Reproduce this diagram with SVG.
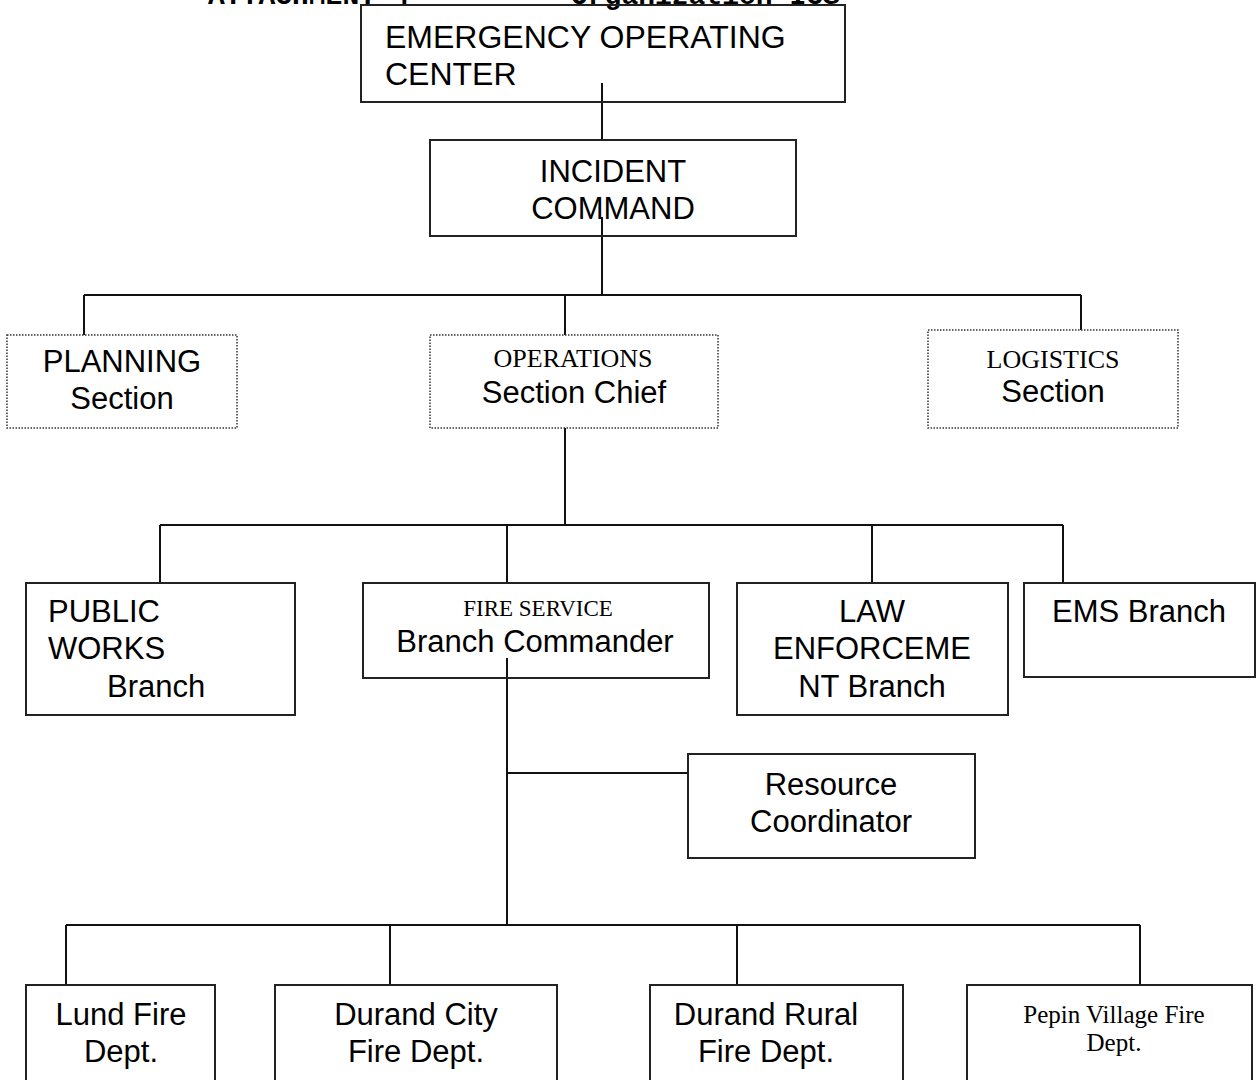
<svg xmlns="http://www.w3.org/2000/svg" width="1257" height="1080" viewBox="0 0 1257 1080">
<style>
.box{fill:#fff;stroke:#222;stroke-width:2}
.dot{fill:#fff;stroke:#333;stroke-width:1.5;stroke-dasharray:1.5 1.5}
.a{font-family:"Liberation Sans",Arial,sans-serif;font-size:31px;fill:#000}
.t{font-family:"Liberation Serif","Times New Roman",serif;font-size:26px;fill:#000}
.title{font-family:"Liberation Mono","Courier New",monospace;font-size:28px;font-weight:bold;fill:#000}
.c{text-anchor:middle}
.ln{fill:none;stroke:#111;stroke-width:2}
</style>
<rect width="1257" height="1080" fill="#fff"/>
<g id="title">
<text class="title" x="208" y="4">ATTACHMENT 4</text>
<text class="title" x="571" y="4">Organization ICS</text>
</g>
<g id="connectors">
<path class="ln" d="M602 83V140M602 217V295M84 295H1081M84 295V335M565 295V335M1081 295V330M565 428V525M160 525H1063M160 525V583M507 525V583M872 525V583M1063 525V583M507 658V925M507 773H688M66 925H1140M66 925V985M390 925V985M737 925V985M1140 925V985"/>
</g>
<g id="eoc">
<rect class="box" x="361" y="5" width="484" height="97" fill-opacity="0"/>
<text class="a" x="385" y="48" style="font-size:32px">EMERGENCY OPERATING</text>
<text class="a" x="385" y="85" style="font-size:32px">CENTER</text>
</g>
<g id="incident">
<rect class="box" x="430" y="140" width="366" height="96" fill-opacity="0"/>
<text class="a c" x="613" y="182">INCIDENT</text>
<text class="a c" x="613" y="219">COMMAND</text>
</g>
<g id="planning">
<rect class="dot" x="7" y="335" width="230" height="93"/>
<text class="a c" x="122" y="372">PLANNING</text>
<text class="a c" x="122" y="409">Section</text>
</g>
<g id="operations">
<rect class="dot" x="430" y="335" width="288" height="93" fill-opacity="0"/>
<text class="t c" x="573" y="367">OPERATIONS</text>
<text class="a c" x="574" y="403">Section Chief</text>
</g>
<g id="logistics">
<rect class="dot" x="928" y="330" width="250" height="98"/>
<text class="t c" x="1053" y="368">LOGISTICS</text>
<text class="a c" x="1053" y="402">Section</text>
</g>
<g id="publicworks">
<rect class="box" x="26" y="583" width="269" height="132"/>
<text class="a" x="48" y="622">PUBLIC</text>
<text class="a" x="48" y="659">WORKS</text>
<text class="a" x="107" y="697">Branch</text>
</g>
<g id="fireservice">
<rect class="box" x="363" y="583" width="346" height="95" fill-opacity="0"/>
<text class="t c" x="538" y="616" style="font-size:23px">FIRE SERVICE</text>
<text class="a c" x="535" y="652">Branch Commander</text>
</g>
<g id="lawenforcement">
<rect class="box" x="737" y="583" width="271" height="132"/>
<text class="a c" x="872" y="622">LAW</text>
<text class="a c" x="872" y="659">ENFORCEME</text>
<text class="a c" x="872" y="697">NT Branch</text>
</g>
<g id="ems">
<rect class="box" x="1024" y="583" width="231" height="94"/>
<text class="a c" x="1139" y="622">EMS Branch</text>
</g>
<g id="resource">
<rect class="box" x="688" y="754" width="287" height="104"/>
<text class="a c" x="831" y="795">Resource</text>
<text class="a c" x="831" y="832">Coordinator</text>
</g>
<g id="lund">
<rect class="box" x="26" y="985" width="189" height="120"/>
<text class="a c" x="121" y="1025">Lund Fire</text>
<text class="a c" x="121" y="1062">Dept.</text>
</g>
<g id="durandcity">
<rect class="box" x="275" y="985" width="282" height="120"/>
<text class="a c" x="416" y="1025">Durand City</text>
<text class="a c" x="416" y="1062">Fire Dept.</text>
</g>
<g id="durandrural">
<rect class="box" x="650" y="985" width="253" height="120"/>
<text class="a c" x="766" y="1025">Durand Rural</text>
<text class="a c" x="766" y="1062">Fire Dept.</text>
</g>
<g id="pepin">
<rect class="box" x="967" y="985" width="285" height="120"/>
<text class="t c" x="1114" y="1023" style="font-size:25px">Pepin Village Fire</text>
<text class="t c" x="1114" y="1051" style="font-size:25px">Dept.</text>
</g>
</svg>
